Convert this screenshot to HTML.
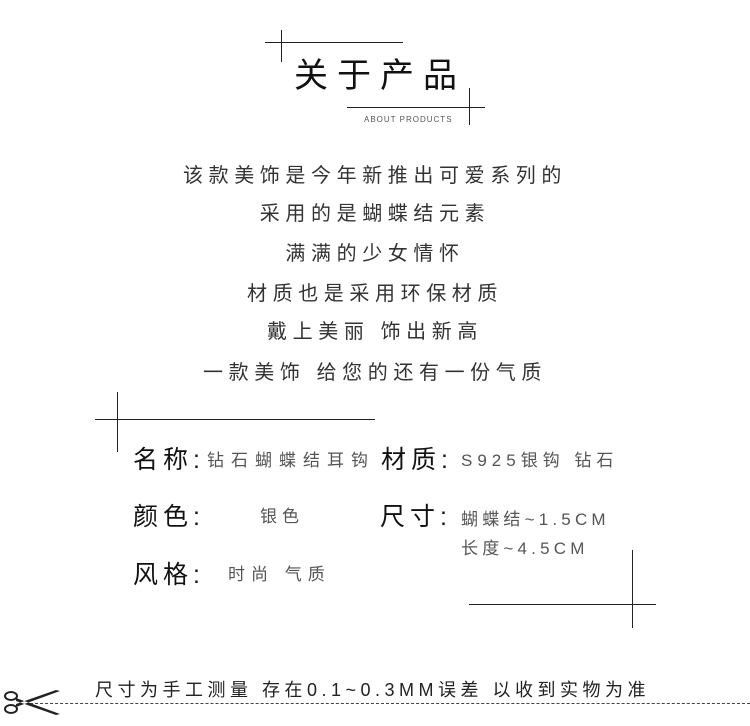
<!DOCTYPE html>
<html><head><meta charset="utf-8"><style>
body{margin:0;width:750px;height:726px;background:#fff;position:relative;overflow:hidden;font-family:"Liberation Sans","Noto Sans CJK SC",sans-serif}
.a{position:absolute;white-space:nowrap}
.h{position:absolute;height:1px;background:#222}
.v{position:absolute;width:1px;background:#222}
.b{left:0;width:750px;text-align:center;font-size:20px;letter-spacing:5.6px;color:#333;line-height:24px}
.l{font-size:25px;letter-spacing:5px;color:#111;line-height:30px}
.val{font-size:17px;letter-spacing:5px;color:#555;line-height:22px}
</style></head><body>
<div class="h" style="left:265px;top:42px;width:138px"></div>
<div class="v" style="left:281px;top:30px;height:32px"></div>
<div class="a" style="left:294px;top:56px;font-size:34px;letter-spacing:9px;color:#111;line-height:40px">关于产品</div>
<div class="h" style="left:347px;top:107px;width:138px"></div>
<div class="v" style="left:469px;top:88px;height:37px"></div>
<div class="a" style="left:364px;top:115px;font-size:8px;letter-spacing:1px;color:#555">ABOUT PRODUCTS</div>

<div class="a b" style="top:164px">该款美饰是今年新推出可爱系列的</div>
<div class="a b" style="top:202px">采用的是蝴蝶结元素</div>
<div class="a b" style="top:242px">满满的少女情怀</div>
<div class="a b" style="top:282px">材质也是采用环保材质</div>
<div class="a b" style="top:320px">戴上美丽 饰出新高</div>
<div class="a b" style="top:361px">一款美饰 给您的还有一份气质</div>

<div class="h" style="left:95px;top:419px;width:280px"></div>
<div class="v" style="left:117px;top:392px;height:60px"></div>
<div class="h" style="left:469px;top:604px;width:187px"></div>
<div class="v" style="left:632px;top:550px;height:78px"></div>

<div class="a l" style="left:133px;top:445px">名称:</div>
<div class="a val" style="left:207px;top:450px;letter-spacing:7px">钻石蝴蝶结耳钩</div>
<div class="a l" style="left:381px;top:445px">材质:</div>
<div class="a val" style="left:461px;top:450px;letter-spacing:5px">S925银钩 钻石</div>
<div class="a l" style="left:133px;top:502px">颜色:</div>
<div class="a val" style="left:260px;top:506px">银色</div>
<div class="a l" style="left:380px;top:502px">尺寸:</div>
<div class="a val" style="left:461px;top:509px;letter-spacing:4.2px">蝴蝶结~1.5CM</div>
<div class="a val" style="left:461px;top:538px;letter-spacing:4.2px">长度~4.5CM</div>
<div class="a l" style="left:133px;top:560px">风格:</div>
<div class="a val" style="left:228px;top:564px;letter-spacing:6px">时尚 气质</div>

<div class="a" style="left:95px;top:678px;font-size:18px;color:#222;letter-spacing:4.5px;line-height:24px">尺寸为手工测量 存在0.1~0.3MM误差 以收到实物为准</div>
<div class="a" style="left:30px;top:703px;width:720px;border-top:1px dashed #444"></div>
<svg class="a" style="left:2px;top:688px" width="60" height="30" viewBox="0 0 60 30">
<ellipse cx="9" cy="8" rx="6" ry="4" fill="none" stroke="#222" stroke-width="2"/>
<ellipse cx="9" cy="21" rx="6" ry="4" fill="none" stroke="#222" stroke-width="2"/>
<path d="M14 10 L58 26 L54 27 L14 13Z M14 19 L58 3 L54 2 L14 16Z" fill="#222"/>
</svg>
</body></html>
